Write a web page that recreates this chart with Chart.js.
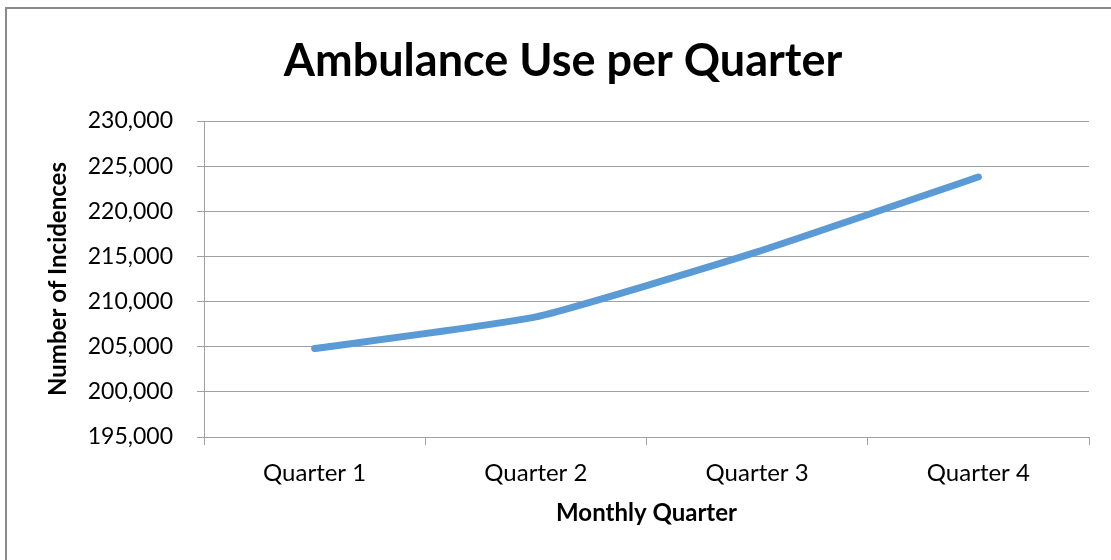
<!DOCTYPE html>
<html>
<head>
<meta charset="utf-8">
<script src="https://cdn.jsdelivr.net/npm/chart.js@4"></script>
<style>
  html, body { margin: 0; padding: 0; background: #fff; overflow: hidden; }
  #wrap { position: relative; width: 1111px; height: 560px; }
  #frame {
    position: absolute; left: 5px; top: 7px; width: 1200px; height: 700px;
    border: 2px solid #8a8a8a; box-sizing: border-box;
  }
  canvas { position: absolute; left: 0; top: 0; }
</style>
</head>
<body>
<div id="wrap">
  <div id="frame"></div>
  <canvas id="chart" width="1111" height="560"></canvas>
</div>
<script>
"use strict";

const quarters = ["Quarter 1", "Quarter 2", "Quarter 3", "Quarter 4"];
const incidences = [204800, 208300, 215500, 223800];
const yMin = 195000;
const yMax = 230000;
const yStep = 5000;
const chartTitle = "Ambulance Use per Quarter";

const gridColor = "#a0a0a0";
const lineColor = "#5b9bd5";

// title sits a bit right of the plot centre in the original, so draw it by hand
const titlePlugin = {
  id: "titlePlugin",
  afterDraw(chart) {
    const c = chart.ctx;
    c.save();
    c.font = "bold 45px Lato";
    c.fillStyle = "#000";
    c.textAlign = "center";
    c.textBaseline = "middle";
    c.fillText(chartTitle, 563, 61);
    c.restore();
  },
};

const ctx = document.getElementById("chart").getContext("2d");

new Chart(ctx, {
  type: "line",
  data: {
    labels: quarters,
    datasets: [
      {
        label: "Incidences",
        data: incidences,
        borderColor: lineColor,
        backgroundColor: lineColor,
        borderWidth: 7,
        borderCapStyle: "round",
        borderJoinStyle: "round",
        pointRadius: 0,
        tension: 0.15,
      },
    ],
  },
  plugins: [titlePlugin],
  options: {
    responsive: false,
    animation: false,
    devicePixelRatio: 1,
    layout: {
      padding: { left: 0, right: 22, top: 121, bottom: 0 },
    },
    plugins: {
      legend: { display: false },
      tooltip: { enabled: false },
      title: { display: false },
    },
    scales: {
      x: {
        offset: true,
        grid: {
          offset: true,
          drawOnChartArea: false,
          drawTicks: true,
          tickLength: 8,
          color: gridColor,
        },
        border: { display: true, color: gridColor },
        ticks: {
          color: "#000",
          font: { family: "Lato", size: 24 },
          padding: 14,
        },
        title: {
          display: true,
          text: "Monthly Quarter",
          color: "#000",
          font: { family: "Lato", size: 24, weight: "bold" },
          padding: { top: 0, bottom: 32 },
        },
        afterFit(scale) {
          scale.height = 123;
        },
      },
      y: {
        min: yMin,
        max: yMax,
        grid: {
          color: gridColor,
          drawTicks: true,
          tickLength: 7,
        },
        border: { display: true, color: gridColor },
        ticks: {
          stepSize: yStep,
          color: "#000",
          font: { family: "Lato", size: 23 },
          padding: 24,
          callback: (v) => v.toLocaleString("en-US"),
        },
        title: {
          display: true,
          text: "Number of Incidences",
          color: "#000",
          font: { family: "Lato", size: 24, weight: "bold" },
          padding: { top: 44, bottom: 0 },
        },
        afterFit(scale) {
          scale.width = 204;
        },
      },
    },
  },
});
</script>
</body>
</html>
